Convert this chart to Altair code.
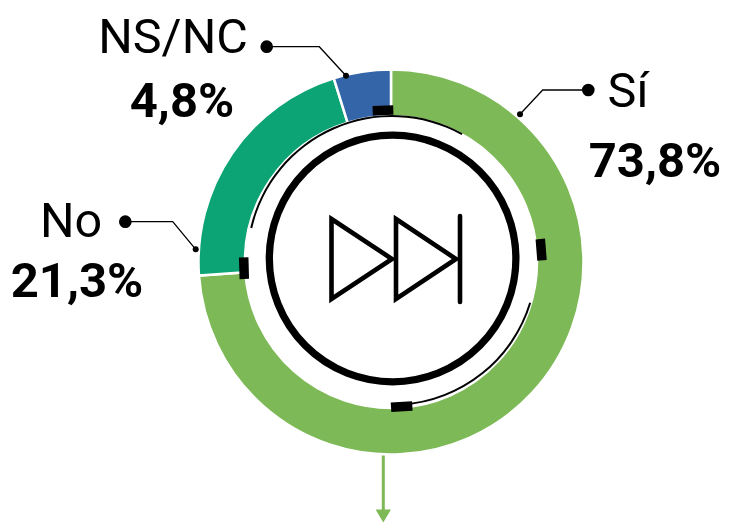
import altair as alt
import pandas as pd

# Ring
categories = ["Sí", "No", "NS/NC"]
values = [73.8, 21.3, 4.8]
ring_colors = ["#7DB956", "#0CA474", "#3565A9"]

# Labels
name_text = ["NS/NC", "No", "Sí"]
name_x = [173, 71, 628]
name_y = [53, 236.7, 106.7]
pct_text = ["4,8%", "21,3%", "73,8%"]
pct_x = [182, 77, 655]
pct_y = [116.7, 296.7, 176.7]

# Leader lines
leader_id = ["a", "a", "a", "b", "b", "b", "c", "c", "c"]
leader_x = [266.7, 319.3, 346, 125.3, 172.7, 195.7, 588.3, 542.7, 520]
leader_y = [46.7, 46.7, 75.7, 221.7, 221.7, 249.3, 90, 90, 114.3]
big_dot_x = [266.7, 125.3, 588.3]
big_dot_y = [46.7, 221.7, 90]
small_dot_x = [346, 195.7, 520]
small_dot_y = [75.7, 249.3, 114.3]

# Dial ticks (start, end)
tick_x = [372.7, 540.3, 391, 243.7]
tick_x2 = [393.3, 542, 412.3, 244.3]
tick_y = [110.7, 239, 407.3, 257.3]
tick_y2 = [110, 260.3, 406, 279]

# Thin dial arcs in degrees
arc_start = [-77, 107]
arc_end = [29, 176]

# Icon
tri_id = ["t1", "t1", "t1", "t2", "t2", "t2"]
tri_order = [0, 1, 2, 0, 1, 2]
tri_x = [331.5, 392, 331.5, 396, 456, 396]
tri_y = [219, 259, 299, 219, 259, 299]
bar_x = [460]
bar_y = [216]
bar_y2 = [302]
circle_x = [392.6]
circle_y = [258.5]

# Arrow
arrow_x = [383.3]
arrow_y = [453]
arrow_y2 = [510]
arrow_head_y = [516]

sx = alt.Scale(domain=[8, 721])
sy = alt.Scale(domain=[523, 8])
X = lambda f: alt.X(f, scale=sx, axis=None, title=None)
Y = lambda f: alt.Y(f, scale=sy, axis=None, title=None)
CX, CY = 383, 254

ring = alt.Chart(pd.DataFrame({"c": categories, "v": values, "i": [0, 1, 2]})).mark_arc(
    radius=192.5, radius2=146, stroke="white", strokeWidth=2.5
).encode(
    theta=alt.Theta("v:Q", scale=alt.Scale(domain=[0, sum(values)], range=[0, 6.2832])),
    order=alt.Order("i:Q"),
    color=alt.Color("c:N", scale=alt.Scale(domain=categories, range=ring_colors), legend=None),
    x=alt.value(CX), y=alt.value(CY),
)

thin = alt.Chart(pd.DataFrame({"a": arc_start, "b": arc_end})).mark_arc(
    radius=145.5, radius2=143.5, color="black"
).encode(
    theta=alt.Theta("a:Q", stack=None, scale=alt.Scale(domain=[0, 360], range=[0, 6.2832])),
    theta2="b:Q",
    x=alt.value(CX + 1), y=alt.value(CY - 1.5),
)

leaders = alt.Chart(pd.DataFrame({"g": leader_id, "x": leader_x, "y": leader_y, "o": [0, 1, 2] * 3})).mark_line(
    color="black", strokeWidth=1.3
).encode(x=X("x:Q"), y=Y("y:Q"), detail="g:N", order="o:Q")

big = alt.Chart(pd.DataFrame({"x": big_dot_x, "y": big_dot_y})).mark_point(
    filled=True, color="black", opacity=1, size=160, shape="circle"
).encode(x=X("x:Q"), y=Y("y:Q"))
small = alt.Chart(pd.DataFrame({"x": small_dot_x, "y": small_dot_y})).mark_point(
    filled=True, color="black", opacity=1, size=36, shape="circle"
).encode(x=X("x:Q"), y=Y("y:Q"))

ticks = alt.Chart(pd.DataFrame({"x": tick_x, "x2": tick_x2, "y": tick_y, "y2": tick_y2})).mark_rule(
    color="black", strokeWidth=9.5
).encode(x=X("x:Q"), x2="x2:Q", y=Y("y:Q"), y2="y2:Q")

circle = alt.Chart(pd.DataFrame({"x": circle_x, "y": circle_y})).mark_point(
    shape="circle", filled=False, color="black", opacity=1, size=60800, strokeWidth=7.3
).encode(x=X("x:Q"), y=Y("y:Q"))

tris = alt.Chart(pd.DataFrame({"g": tri_id, "x": tri_x, "y": tri_y, "o": tri_order})).mark_line(
    color="black", strokeWidth=4.6, interpolate="linear-closed", strokeJoin="miter", strokeMiterLimit=10
).encode(x=X("x:Q"), y=Y("y:Q"), detail="g:N", order="o:Q")

bar = alt.Chart(pd.DataFrame({"x": bar_x, "y": bar_y, "y2": bar_y2})).mark_rule(
    color="black", strokeWidth=4.6, strokeCap="round"
).encode(x=X("x:Q"), y=Y("y:Q"), y2="y2:Q")

arrow = alt.Chart(pd.DataFrame({"x": arrow_x, "y": arrow_y, "y2": arrow_y2})).mark_rule(
    color=ring_colors[0], strokeWidth=3
).encode(x=X("x:Q"), y=Y("y:Q"), y2="y2:Q")
head = alt.Chart(pd.DataFrame({"x": arrow_x, "y": arrow_head_y})).mark_point(
    shape="triangle-down", filled=True, color=ring_colors[0], opacity=1, size=234
).encode(x=X("x:Q"), y=Y("y:Q"))

names = alt.Chart(pd.DataFrame({"t": name_text, "x": name_x, "y": name_y})).mark_text(
    font="Roboto", fontSize=48.5, fontWeight=400, color="black", align="center", baseline="alphabetic"
).encode(x=X("x:Q"), y=Y("y:Q"), text="t:N")
pcts = alt.Chart(pd.DataFrame({"t": pct_text, "x": pct_x, "y": pct_y})).mark_text(
    font="Roboto", fontSize=49, fontWeight=700, color="black", align="center", baseline="alphabetic"
).encode(x=X("x:Q"), y=Y("y:Q"), text="t:N")

chart = alt.layer(
    arrow, head, ring, thin, ticks, circle, tris, bar, leaders, big, small, names, pcts
).resolve_scale(theta="independent").properties(
    width=713, height=515, padding=0, background="white",
    autosize=alt.AutoSizeParams(type="none")
).configure_view(stroke=None)

chart.save("out.html", embed_options={"renderer": "svg", "actions": False})
